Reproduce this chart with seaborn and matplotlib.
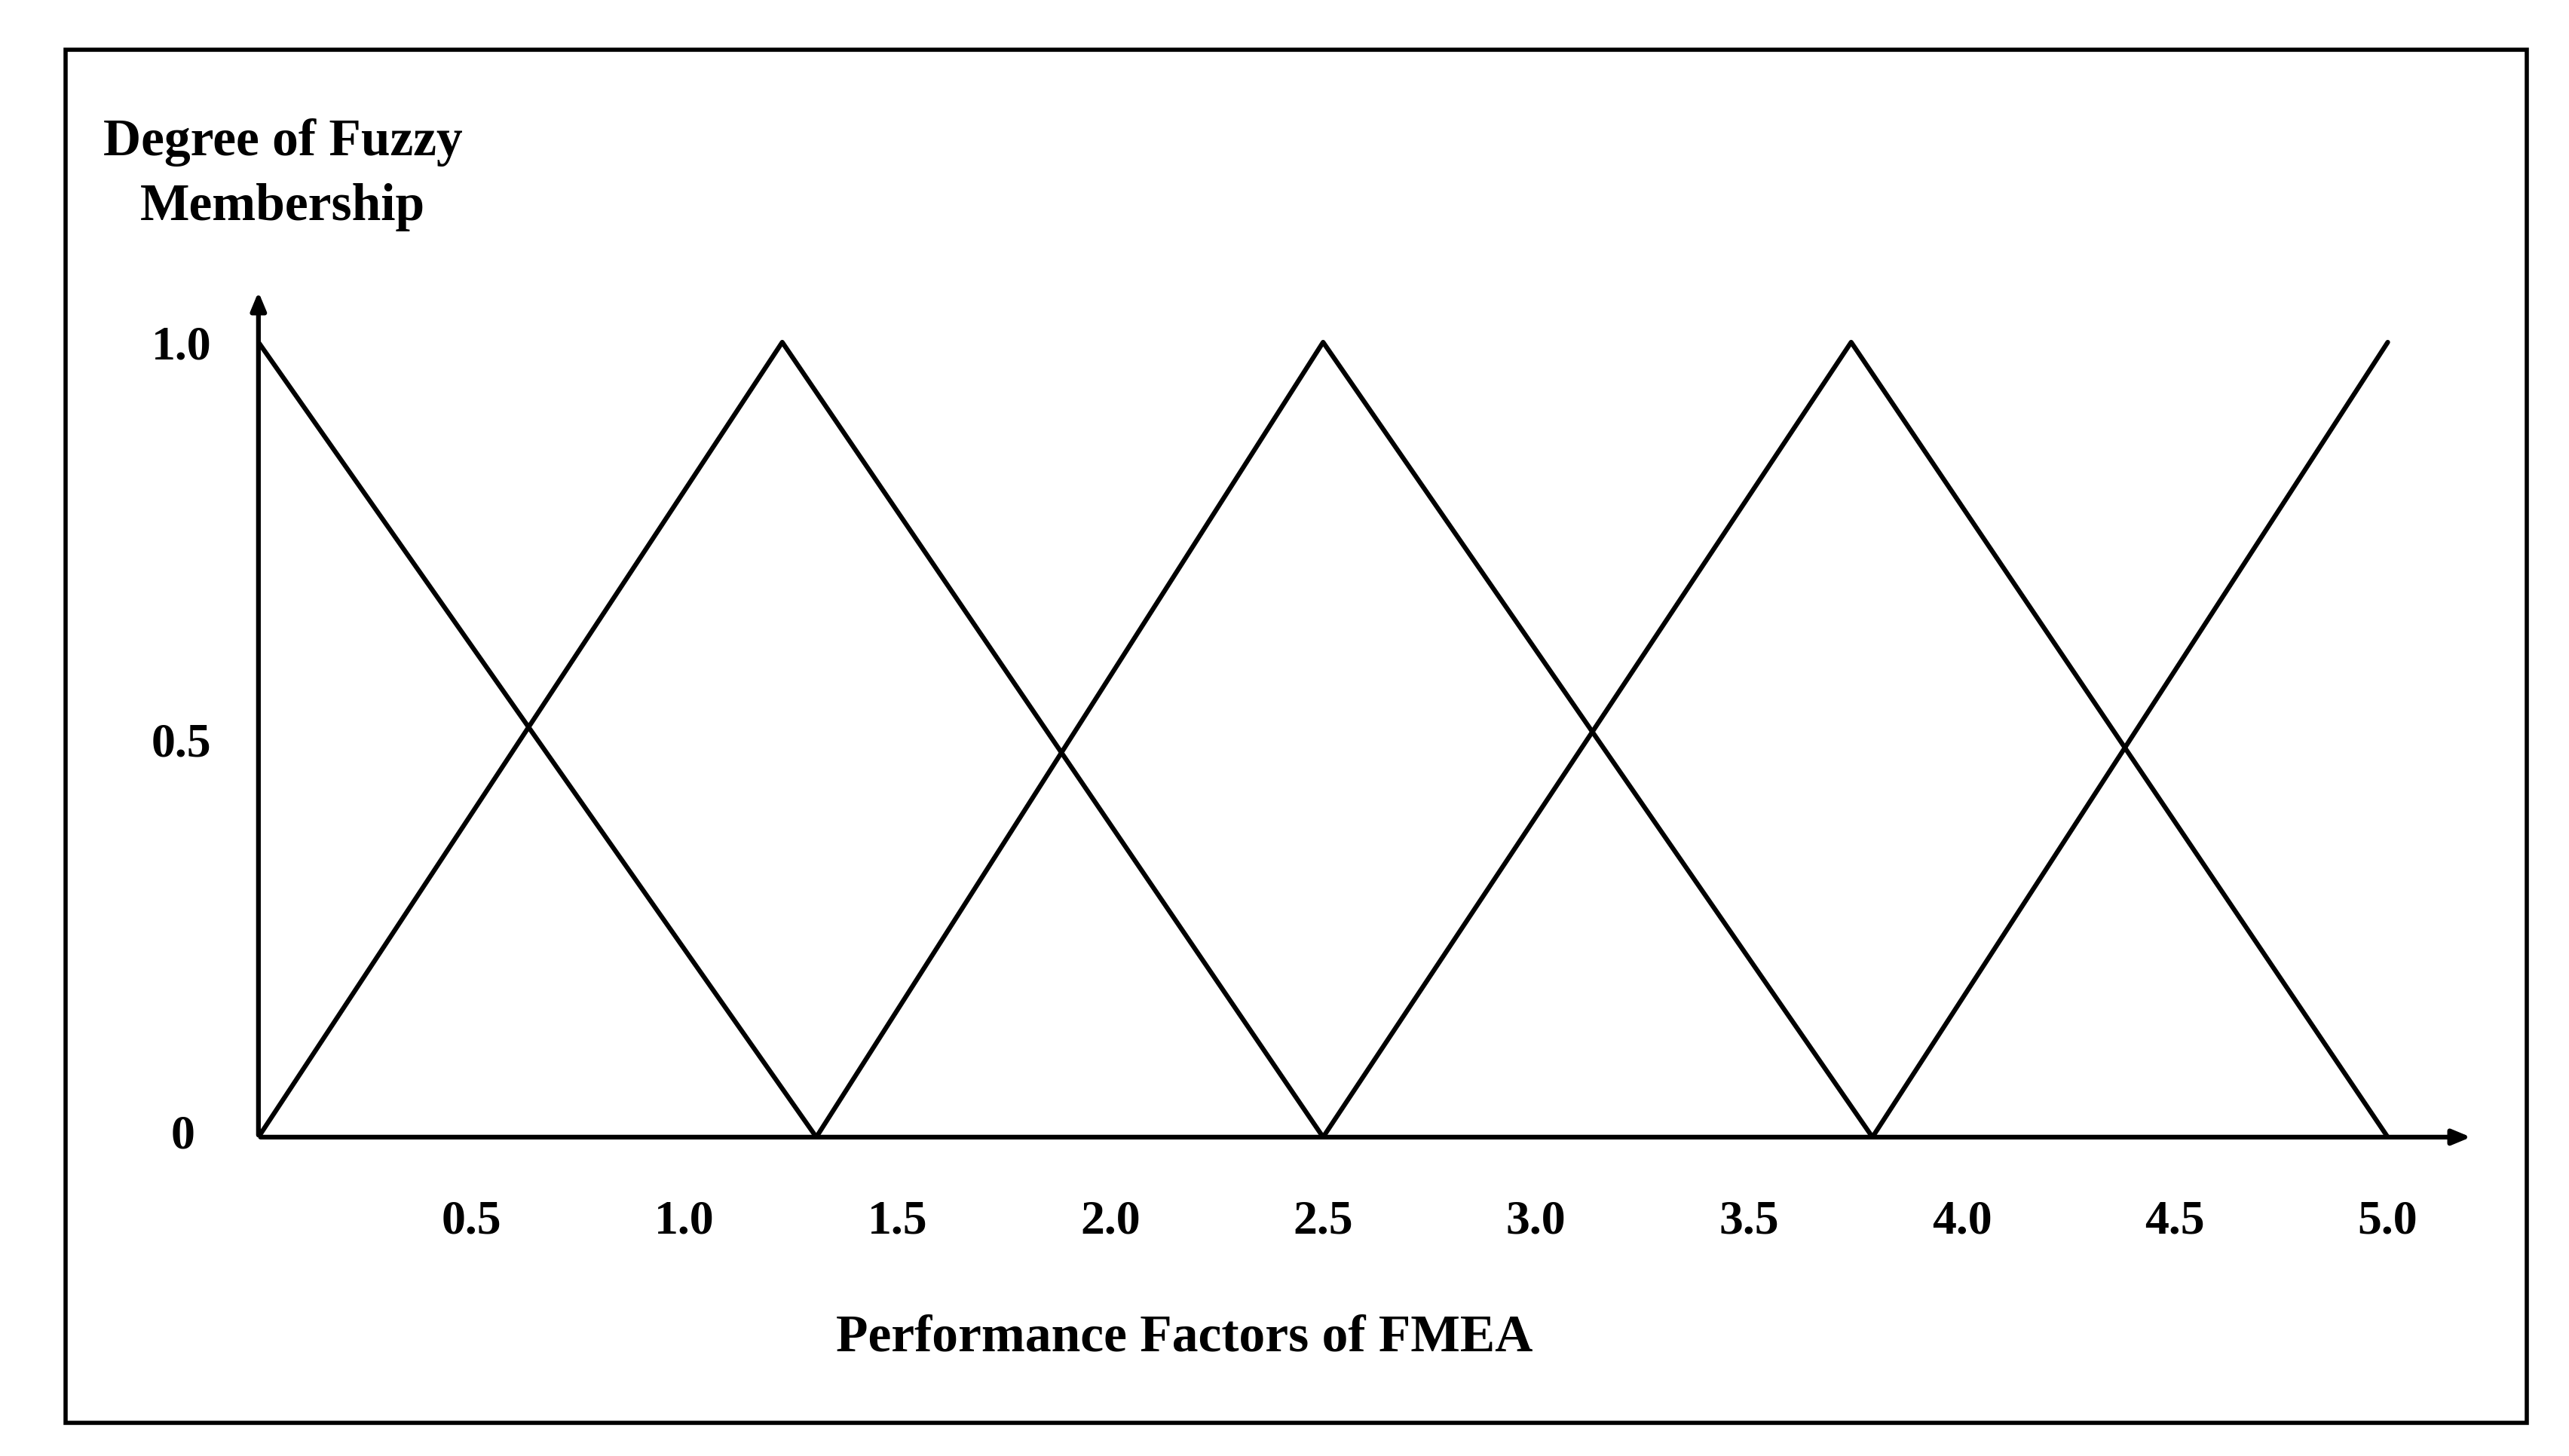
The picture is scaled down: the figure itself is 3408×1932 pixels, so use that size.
import matplotlib
matplotlib.use("Agg")
import matplotlib.pyplot as plt
from matplotlib.patches import Rectangle
import seaborn as sns
import pandas as pd

sns.set_theme(style="white")
plt.rcParams['font.family'] = ['Liberation Serif', 'DejaVu Serif']
plt.rcParams['text.color'] = 'black'
plt.rcParams['xtick.color'] = 'black'
plt.rcParams['ytick.color'] = 'black'

# Membership function vertices
x_a = [0.0, 1.31, 2.5, 3.79, 5.0]
y_a = [1.0, 0.0, 1.0, 0.0, 1.0]
x_b = [0.0, 1.23, 2.5, 3.74, 5.0]
y_b = [0.0, 1.0, 0.0, 1.0, 0.0]
x_ticks = [0.5, 1.0, 1.5, 2.0, 2.5, 3.0, 3.5, 4.0, 4.5, 5.0]
x_tick_labels = ["0.5", "1.0", "1.5", "2.0", "2.5", "3.0", "3.5", "4.0", "4.5", "5.0"]
y_ticks = [0.5, 1.0]
y_tick_labels = ["0.5", "1.0"]

fig = plt.figure(figsize=(34.08, 19.32), dpi=100)
fig.patches.append(Rectangle((0.0256, 0.023), 0.958, 0.943, transform=fig.transFigure,
                             fill=False, edgecolor='black', linewidth=4))
ax = fig.add_axes([0.1006, 0.219, 0.862, 0.582])

df = pd.concat([pd.DataFrame({'x': x_a, 'y': y_a, 's': 'a'}),
                pd.DataFrame({'x': x_b, 'y': y_b, 's': 'b'})])
sns.lineplot(data=df, x='x', y='y', units='s', estimator=None, sort=False,
             color='black', linewidth=4.5, ax=ax)

ax.set_xlim(0, 5.2)
ax.set_ylim(0, 1.066)
for s in ax.spines.values():
    s.set_visible(False)
ax.annotate('', xy=(5.2, 0), xytext=(0, 0), xycoords='data',
            arrowprops=dict(arrowstyle='-|>,head_length=1.2,head_width=0.5', color='black', lw=4.5),
            annotation_clip=False)
ax.annotate('', xy=(0, 1.066), xytext=(0, 0), xycoords='data',
            arrowprops=dict(arrowstyle='-|>,head_length=1.2,head_width=0.5', color='black', lw=4.5),
            annotation_clip=False)

ax.set_xticks(x_ticks)
ax.set_xticklabels(x_tick_labels, fontsize=46, fontweight='bold')
ax.set_yticks(y_ticks)
ax.set_yticklabels(y_tick_labels, fontsize=46, fontweight='bold')
ax.tick_params(axis='x', length=0, pad=60)
ax.tick_params(axis='y', length=10, width=2, color='#4a6fa5', pad=45, direction='in')
ax.text(-0.15, 0, "0", fontsize=46, fontweight='bold', ha='right', va='center')
ax.set_xlabel('')
ax.set_ylabel('')

fig.text(0.461, 0.072, "Performance Factors of FMEA", fontsize=50, fontweight='bold', ha='center')
fig.text(0.11, 0.88, "Degree of Fuzzy\nMembership", fontsize=50, fontweight='bold',
         ha='center', va='center', linespacing=1.45)

fig.savefig("out.png", dpi=100)
